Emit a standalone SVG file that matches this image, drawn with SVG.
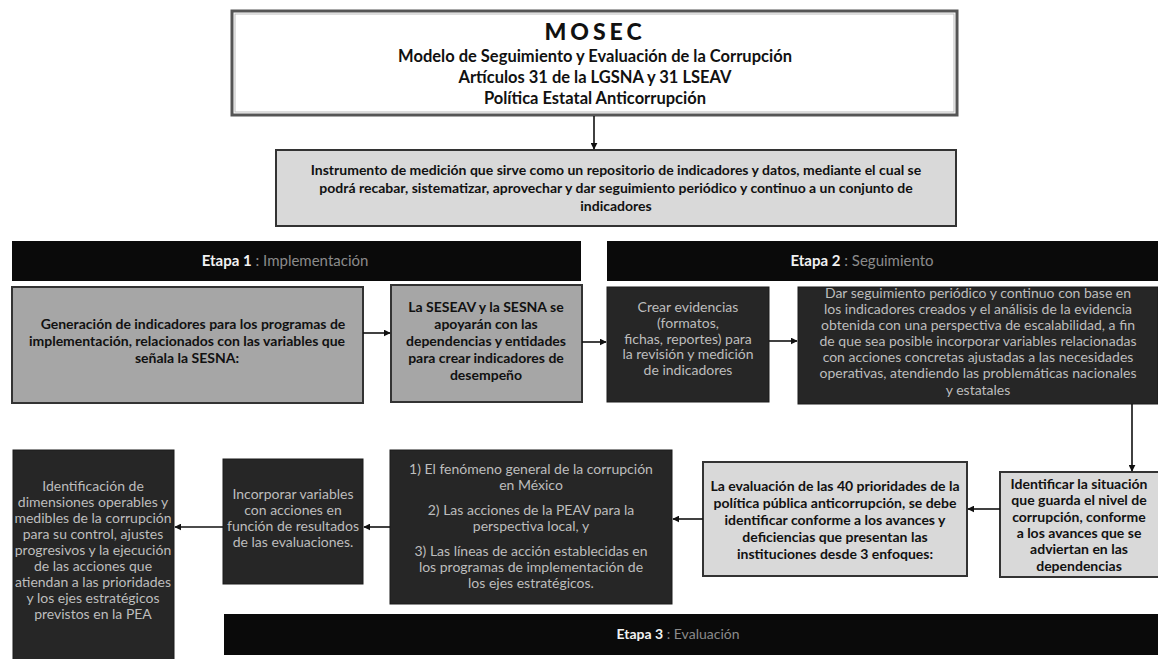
<svg xmlns="http://www.w3.org/2000/svg" width="1158" height="659" viewBox="0 0 1158 659">
<defs>
<marker id="ah" viewBox="0 0 10 10" refX="9" refY="5" markerWidth="7" markerHeight="7" markerUnits="userSpaceOnUse" orient="auto">
<path d="M0,0 L10,5 L0,10 z" fill="#111"/>
</marker>
<style>
text{font-family:Lato,"Open Sans","Liberation Sans",sans-serif;text-anchor:middle}
.light{fill:#d9d9d9;stroke:#333;stroke-width:2}
.mid{fill:#a6a6a6;stroke:#333;stroke-width:2}
.dark{fill:#262626;stroke:#1a1a1a;stroke-width:1}
.bar{fill:#0a0a0a}
.bt{font-size:14px;font-weight:bold;fill:#111}
.wt{font-size:14px;fill:#bdbdbd}
.hw{fill:#f2f2f2;font-weight:bold}
.hg{fill:#8a8a8a}
.hd{font-size:15px}
.conn{stroke:#111;stroke-width:1.6;fill:none;marker-end:url(#ah)}
</style>
</defs>
<rect width="1158" height="659" fill="#fff"/>

<g id="mosec">
<rect x="232" y="11" width="725" height="104" fill="#fff" stroke="#555" stroke-width="3"/>
<rect x="235" y="14" width="719" height="98" fill="none" stroke="#bbb" stroke-width="1"/>
<text x="595" y="40" font-size="23" font-weight="900" letter-spacing="4" fill="#111">MOSEC</text>
<text x="595" y="62" font-size="16.5" font-weight="bold" fill="#111">Modelo de Seguimiento y Evaluación de la Corrupción</text>
<text x="595" y="83" font-size="16.5" font-weight="bold" fill="#111">Artículos 31 de la LGSNA y 31 LSEAV</text>
<text x="595" y="104" font-size="16.5" font-weight="bold" fill="#111">Política Estatal Anticorrupción</text>
</g>

<g id="instrumento">
<rect class="light" x="276" y="150" width="680" height="76"/>
<text class="bt" x="616" y="175" font-size="13">Instrumento de medición que sirve como un repositorio de indicadores y datos, mediante el cual  se</text>
<text class="bt" x="616" y="193" font-size="13">podrá recabar, sistematizar, aprovechar y dar seguimiento periódico y continuo a un conjunto de</text>
<text class="bt" x="616" y="211" font-size="13">indicadores</text>
</g>

<g id="etapa1">
<rect class="bar" x="12" y="241" width="569" height="40"/>
<text class="hd" x="285" y="266"><tspan class="hw">Etapa 1</tspan><tspan class="hg"> : Implementación</tspan></text>
</g>

<g id="etapa2">
<rect class="bar" x="607" y="241" width="551" height="40"/>
<text class="hd" x="862" y="266"><tspan class="hw">Etapa 2</tspan><tspan class="hg"> : Seguimiento</tspan></text>
</g>

<g id="etapa3">
<rect class="bar" x="224" y="614" width="934" height="41"/>
<text x="678" y="639" font-size="14"><tspan class="hw">Etapa 3</tspan><tspan class="hg"> : Evaluación</tspan></text>
</g>

<g id="generacion">
<rect class="mid" x="12" y="287" width="351" height="116"/>
<text class="bt" x="193" y="329" font-size="13.5">Generación de indicadores para los programas de</text>
<text class="bt" x="187" y="346" font-size="13.5">implementación, relacionados con las variables que</text>
<text class="bt" x="187" y="363" font-size="13.5">señala la SESNA:</text>
</g>

<g id="seseav">
<rect class="mid" x="391" y="285" width="191" height="117"/>
<text class="bt" x="486" y="312">La SESEAV y la SESNA se</text>
<text class="bt" x="486" y="329">apoyarán con las</text>
<text class="bt" x="486" y="346">dependencias y entidades</text>
<text class="bt" x="486" y="363">para crear indicadores de</text>
<text class="bt" x="486" y="380">desempeño</text>
</g>

<g id="crear">
<rect class="dark" x="607" y="287" width="162" height="115"/>
<text class="wt" x="688" y="312">Crear evidencias</text>
<text class="wt" x="688" y="328">(formatos,</text>
<text class="wt" x="688" y="344">fichas, reportes) para</text>
<text class="wt" x="688" y="359">la revisión y medición</text>
<text class="wt" x="688" y="375">de indicadores</text>
</g>

<g id="dar">
<rect class="dark" x="798" y="287" width="360" height="117"/>
<text class="wt" x="978" y="298">Dar seguimiento periódico y continuo con base en</text>
<text class="wt" x="978" y="314">los indicadores creados y el análisis de la evidencia</text>
<text class="wt" x="978" y="330">obtenida con una perspectiva de escalabilidad, a fin</text>
<text class="wt" x="978" y="346">de que sea posible incorporar variables relacionadas</text>
<text class="wt" x="978" y="362">con acciones concretas ajustadas a las necesidades</text>
<text class="wt" x="978" y="378">operativas, atendiendo las problemáticas nacionales</text>
<text class="wt" x="978" y="395">y estatales</text>
</g>

<g id="identificar">
<rect class="light" x="1000" y="472" width="160" height="105"/>
<text class="bt" x="1079" y="489" font-size="14.5">Identificar la situación</text>
<text class="bt" x="1079" y="505" font-size="14.5">que guarda el nivel de</text>
<text class="bt" x="1079" y="522" font-size="14.5">corrupción, conforme</text>
<text class="bt" x="1079" y="538" font-size="14.5">a los avances que se</text>
<text class="bt" x="1079" y="554" font-size="14.5">adviertan en las</text>
<text class="bt" x="1079" y="571" font-size="14.5">dependencias</text>
</g>

<g id="evaluacion40">
<rect class="light" x="703" y="462" width="264" height="114"/>
<text class="bt" x="835" y="491">La evaluación de las 40  prioridades de la</text>
<text class="bt" x="835" y="508">política pública anticorrupción, se debe</text>
<text class="bt" x="835" y="525">identificar conforme a los avances y</text>
<text class="bt" x="835" y="542">deficiencias que presentan las</text>
<text class="bt" x="835" y="559">instituciones desde 3 enfoques:</text>
</g>

<g id="enfoques">
<rect class="dark" x="390" y="450" width="282" height="154"/>
<text class="wt" x="531" y="474">1) El fenómeno general de la corrupción</text>
<text class="wt" x="531" y="490">en México</text>
<text class="wt" x="531" y="515">2) Las acciones de la PEAV  para la</text>
<text class="wt" x="531" y="531">perspectiva local, y</text>
<text class="wt" x="531" y="556">3) Las líneas de acción establecidas en</text>
<text class="wt" x="531" y="572">los programas de implementación de</text>
<text class="wt" x="531" y="588">los ejes estratégicos.</text>
</g>

<g id="incorporar">
<rect class="dark" x="223" y="459" width="140" height="125"/>
<text class="wt" x="293" y="499">Incorporar variables</text>
<text class="wt" x="293" y="515">con acciones en</text>
<text class="wt" x="293" y="531">función de resultados</text>
<text class="wt" x="293" y="547">de las evaluaciones.</text>
</g>

<g id="identificacion">
<rect class="dark" x="13" y="450" width="161" height="212"/>
<text class="wt" x="93" y="491">Identificación de</text>
<text class="wt" x="93" y="507">dimensiones operables y</text>
<text class="wt" x="93" y="523">medibles de la corrupción</text>
<text class="wt" x="93" y="539">para su control, ajustes</text>
<text class="wt" x="93" y="555">progresivos y la ejecución</text>
<text class="wt" x="93" y="571">de las acciones que</text>
<text class="wt" x="93" y="587">atiendan a las prioridades</text>
<text class="wt" x="93" y="603">y los ejes estratégicos</text>
<text class="wt" x="93" y="619">previstos en la PEA</text>
</g>

<g id="connectors">
<line class="conn" x1="594" y1="116" x2="594" y2="149"/>
<line class="conn" x1="363" y1="333" x2="390" y2="333"/>
<line class="conn" x1="582" y1="342" x2="606" y2="342"/>
<line class="conn" x1="769" y1="341" x2="797" y2="341"/>
<line class="conn" x1="1132" y1="404" x2="1132" y2="471"/>
<line class="conn" x1="1000" y1="509" x2="968" y2="509"/>
<line class="conn" x1="703" y1="519" x2="673" y2="519"/>
<line class="conn" x1="390" y1="527" x2="364" y2="527"/>
<line class="conn" x1="223" y1="527" x2="175" y2="527"/>
</g>
</svg>
